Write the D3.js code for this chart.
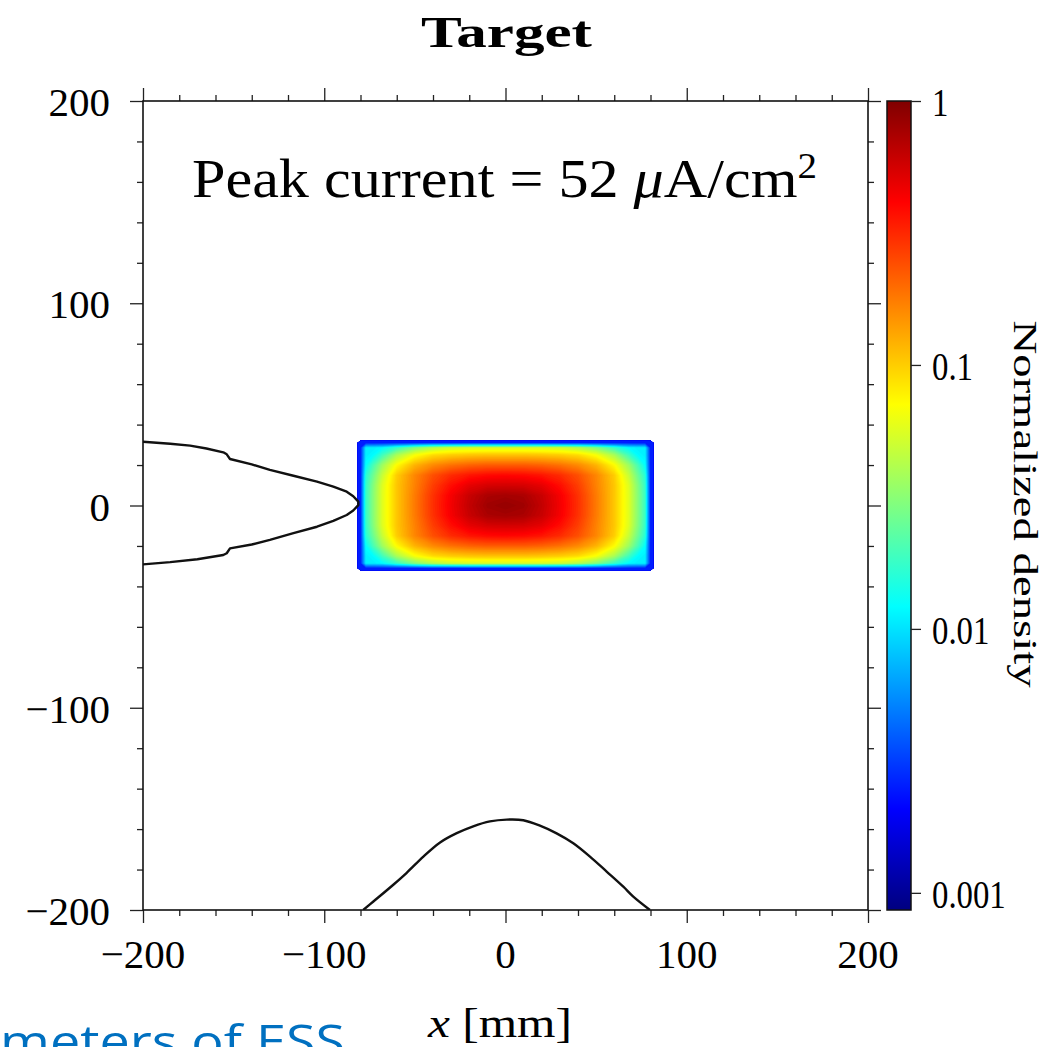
<!DOCTYPE html>
<html>
<head>
<meta charset="utf-8">
<script src="https://cdn.jsdelivr.net/npm/d3@7"></script>
<style>
  html, body { margin: 0; padding: 0; background: #fff; }
  svg { display: block; }
</style>
</head>
<body>
<div id="chart"></div>
<script>
// sample positions of the beam density (mm)
const gridX = [-80, -77, -73, -68, -60, -50, -40, -30, -20, -10, 0, 10, 20, 30, 40, 50, 60, 68, 73, 77, 80]
const gridY = [31, 28.5, 25, 20, 15, 10, 5, 0, -5, -10, -15, -20, -25, -28.5, -31]
// half size of the beam footprint (mm)
const beamEdgeX = 81.5
const beamEdgeY = 32

// normalized density, one row per gridY value (top to bottom)
const density = [
  [0.0025, 0.0025, 0.0025, 0.0025, 0.0025, 0.0025, 0.0025, 0.0025, 0.0025, 0.0025, 0.0025, 0.0025, 0.0025, 0.0025, 0.0025, 0.0025, 0.0025, 0.0025, 0.0025, 0.0025, 0.0025],
  [0.0025, 0.011, 0.011, 0.012, 0.018, 0.03, 0.042, 0.05, 0.053, 0.054, 0.054, 0.054, 0.053, 0.05, 0.042, 0.03, 0.018, 0.012, 0.011, 0.011, 0.0025],
  [0.0025, 0.011, 0.012, 0.019, 0.039, 0.068, 0.09, 0.1, 0.105, 0.108, 0.108, 0.108, 0.105, 0.1, 0.09, 0.068, 0.039, 0.019, 0.012, 0.011, 0.0025],
  [0.0025, 0.0125, 0.02, 0.036, 0.072, 0.12, 0.16, 0.19, 0.21, 0.22, 0.22, 0.22, 0.21, 0.19, 0.16, 0.12, 0.072, 0.036, 0.02, 0.0125, 0.0025],
  [0.0025, 0.016, 0.026, 0.048, 0.1, 0.165, 0.24, 0.31, 0.36, 0.39, 0.4, 0.39, 0.36, 0.31, 0.24, 0.165, 0.1, 0.048, 0.026, 0.016, 0.0025],
  [0.0025, 0.0175, 0.03, 0.056, 0.105, 0.17, 0.27, 0.38, 0.49, 0.55, 0.56, 0.55, 0.49, 0.38, 0.27, 0.17, 0.105, 0.056, 0.03, 0.0175, 0.0025],
  [0.0025, 0.018, 0.031, 0.057, 0.105, 0.178, 0.295, 0.44, 0.605, 0.74, 0.77, 0.74, 0.605, 0.44, 0.295, 0.178, 0.105, 0.057, 0.031, 0.018, 0.0025],
  [0.0025, 0.018, 0.031, 0.057, 0.105, 0.18, 0.3, 0.45, 0.63, 0.8, 0.86, 0.8, 0.63, 0.45, 0.3, 0.18, 0.105, 0.057, 0.031, 0.018, 0.0025],
  [0.0025, 0.018, 0.031, 0.057, 0.105, 0.178, 0.295, 0.44, 0.605, 0.74, 0.77, 0.74, 0.605, 0.44, 0.295, 0.178, 0.105, 0.057, 0.031, 0.018, 0.0025],
  [0.0025, 0.0175, 0.03, 0.056, 0.105, 0.17, 0.27, 0.38, 0.49, 0.55, 0.56, 0.55, 0.49, 0.38, 0.27, 0.17, 0.105, 0.056, 0.03, 0.0175, 0.0025],
  [0.0025, 0.016, 0.026, 0.048, 0.1, 0.165, 0.24, 0.31, 0.36, 0.39, 0.4, 0.39, 0.36, 0.31, 0.24, 0.165, 0.1, 0.048, 0.026, 0.016, 0.0025],
  [0.0025, 0.0125, 0.02, 0.036, 0.072, 0.12, 0.16, 0.19, 0.21, 0.22, 0.22, 0.22, 0.21, 0.19, 0.16, 0.12, 0.072, 0.036, 0.02, 0.0125, 0.0025],
  [0.0025, 0.011, 0.012, 0.019, 0.039, 0.068, 0.09, 0.1, 0.105, 0.108, 0.108, 0.108, 0.105, 0.1, 0.09, 0.068, 0.039, 0.019, 0.012, 0.011, 0.0025],
  [0.0025, 0.011, 0.011, 0.012, 0.018, 0.03, 0.042, 0.05, 0.053, 0.054, 0.054, 0.054, 0.053, 0.05, 0.042, 0.03, 0.018, 0.012, 0.011, 0.011, 0.0025],
  [0.0025, 0.0025, 0.0025, 0.0025, 0.0025, 0.0025, 0.0025, 0.0025, 0.0025, 0.0025, 0.0025, 0.0025, 0.0025, 0.0025, 0.0025, 0.0025, 0.0025, 0.0025, 0.0025, 0.0025, 0.0025]
]

// aperture outline on the left (mm)
const apertureX = [-200, -185, -174, -165, -155.7, -153.8, -152, -140, -130, -117, -104, -95, -87.6, -84, -81.2, -81.2, -84, -87.6, -95, -104, -117, -130, -140, -152, -153.8, -155.7, -170, -185, -200]
const apertureY = [31.5, 30.5, 29.6, 28.2, 26.3, 25.3, 23, 20.3, 17.6, 14.7, 11.8, 9.3, 6.8, 4.6, 1.9, 0.2, -2.5, -4.7, -7.6, -10.5, -13.7, -17, -19.3, -21.2, -23.6, -24.5, -26.6, -28, -29.1]
// outline at the bottom (mm)
const lowerX = [-78.5, -72.9, -61.9, -54.5, -45.3, -36.1, -26.9, -17.8, -8.6, 0.7, 9.8, 19, 28.2, 37.4, 46.6, 55.8, 65, 70.5, 79.7]
const lowerY = [-200, -195.8, -187.5, -181.6, -173.6, -166.6, -162, -158.6, -156.2, -155.3, -155.6, -158.3, -162.1, -167, -173.6, -181, -188.5, -193.4, -200]

const majorTicks = [-200, -100, 0, 100, 200]
const minorTicks = [-180, -160, -140, -120, -80, -60, -40, -20, 20, 40, 60, 80, 120, 140, 160, 180]
const colorTicks = [1, 0.1, 0.01, 0.001]
const colorTickLabels = ['1', '0.1', '0.01', '0.001']
const jetColors = ['#000080', '#0000ff', '#0080ff', '#00ffff', '#80ff80', '#ffff00', '#ff8000', '#ff0000', '#800000']

const W = 1059, H = 1047
const M = { left: 143, right: 868, top: 101, bottom: 910 }
const SERIF = "'Liberation Serif', 'DejaVu Serif', serif"
const LOG_MIN = -3.065

const svg = d3.select('#chart').append('svg')
  .attr('width', W)
  .attr('height', H)
  .style('font-family', SERIF)

const x = d3.scaleLinear().domain([-200, 200]).range([M.left, M.right])
const y = d3.scaleLinear().domain([-200, 200]).range([M.bottom, M.top])
const color = d3.scaleSequentialLog(d3.piecewise(d3.interpolateRgb, jetColors))
  .domain([10 ** LOG_MIN, 1])
  .clamp(true)

// contour grid index -> mm (samples sit at cell centres)
const gx = d3.scaleLinear()
  .domain([0, ...gridX.map((d, i) => i + 0.5), gridX.length])
  .range([-beamEdgeX, ...gridX, beamEdgeX])
const gy = d3.scaleLinear()
  .domain([0, ...gridY.map((d, i) => i + 0.5), gridY.length])
  .range([beamEdgeY, ...gridY, -beamEdgeY])

const STEP = 0.02
const levels = d3.range(LOG_MIN, 0, STEP)
const bands = d3.contours()
  .size([gridX.length, gridY.length])
  .thresholds(levels)(density.flat().map(Math.log10))

const toPixels = d3.geoTransform({
  point(u, v) { this.stream.point(x(gx(u)), y(gy(v))) }
})
const path = d3.geoPath(toPixels)

svg.append('g')
  .selectAll('path')
  .data(bands)
  .join('path')
    .attr('d', path)
    .attr('fill', d => color(10 ** (d.value + STEP / 2)))

// outlines
svg.append('clipPath').attr('id', 'plot-clip')
  .append('rect')
    .attr('x', M.left).attr('y', M.top)
    .attr('width', M.right - M.left).attr('height', M.bottom - M.top)

const line = d3.line().x(d => x(d[0])).y(d => y(d[1]))
const outlines = svg.append('g').attr('clip-path', 'url(#plot-clip)')
outlines.append('path')
  .attr('d', line(d3.zip(apertureX, apertureY)))
  .attr('fill', 'none').attr('stroke', '#111').attr('stroke-width', 2.4)
  .attr('stroke-linejoin', 'round')
outlines.append('path')
  .attr('d', line.curve(d3.curveCatmullRom)(d3.zip(lowerX, lowerY)))
  .attr('fill', 'none').attr('stroke', '#111').attr('stroke-width', 2.4)

// ticks on all four sides, pointing outwards
const sides = [
  [d3.axisBottom(x), `translate(0,${M.bottom})`],
  [d3.axisTop(x), `translate(0,${M.top})`],
  [d3.axisLeft(y), `translate(${M.left},0)`],
  [d3.axisRight(y), `translate(${M.right},0)`]
]
sides.forEach(([axis, t]) => {
  [[minorTicks, 6], [majorTicks, 13]].forEach(([vals, size]) => {
    const g = svg.append('g').attr('transform', t)
      .call(axis.tickValues(vals).tickSize(size).tickSizeOuter(0).tickFormat(''))
    g.select('.domain').remove()
    g.selectAll('line').attr('stroke', '#222').attr('stroke-width', 1.3)
  })
})

svg.append('rect')
  .attr('x', M.left).attr('y', M.top)
  .attr('width', M.right - M.left).attr('height', M.bottom - M.top)
  .attr('fill', 'none').attr('stroke', '#111').attr('stroke-width', 1.6)

const fmt = v => (v < 0 ? '\u2212' : '') + Math.abs(v)

svg.append('g').selectAll('text')
  .data(majorTicks)
  .join('text')
    .attr('x', 110)
    .attr('y', d => y(d) + 15)
    .attr('text-anchor', 'end')
    .attr('font-size', 41)
    .text(fmt)

svg.append('g').selectAll('text')
  .data(majorTicks)
  .join('text')
    .attr('x', d => x(d))
    .attr('y', 968)
    .attr('text-anchor', 'middle')
    .attr('font-size', 41)
    .text(fmt)

// colour bar
const cbX = 887, cbW = 24
const cbScale = d3.scaleLog().domain([10 ** LOG_MIN, 1]).range([M.bottom, M.top])
const grad = svg.append('defs').append('linearGradient')
  .attr('id', 'jet')
  .attr('x1', 0).attr('y1', 1).attr('x2', 0).attr('y2', 0)
grad.selectAll('stop')
  .data(jetColors)
  .join('stop')
    .attr('offset', (d, i) => i / (jetColors.length - 1))
    .attr('stop-color', d => d)

svg.append('rect')
  .attr('x', cbX).attr('y', M.top)
  .attr('width', cbW).attr('height', M.bottom - M.top)
  .attr('fill', 'url(#jet)')
  .attr('stroke', '#111').attr('stroke-width', 1.5)

const cbAxis = svg.append('g')
  .attr('transform', `translate(${cbX + cbW},0)`)
  .call(d3.axisRight(cbScale).tickValues(colorTicks).tickSize(10).tickFormat(''))
cbAxis.select('.domain').remove()
cbAxis.selectAll('line').attr('stroke', '#222').attr('stroke-width', 1.3)

svg.append('g').selectAll('text')
  .data(colorTicks)
  .join('text')
    .attr('transform', d => `translate(932,${cbScale(d) + 15}) scale(0.8,1)`)
    .attr('font-size', 41)
    .text((d, i) => colorTickLabels[i])

svg.append('text')
  .attr('transform', 'translate(1014,504) rotate(90)')
  .attr('text-anchor', 'middle')
  .attr('font-size', 33)
  .attr('textLength', 367)
  .attr('lengthAdjust', 'spacingAndGlyphs')
  .text('Normalized density')

// titles and labels
svg.append('text')
  .attr('x', 421).attr('y', 47)
  .attr('font-size', 44)
  .attr('font-weight', 'bold')
  .attr('textLength', 171)
  .attr('lengthAdjust', 'spacingAndGlyphs')
  .text('Target')

const peak = svg.append('text')
  .attr('x', 192).attr('y', 197)
  .attr('font-size', 54)
  .attr('textLength', 625)
  .attr('lengthAdjust', 'spacingAndGlyphs')
peak.append('tspan').text('Peak current = 52 ')
peak.append('tspan').attr('font-style', 'italic').text('\u03bc')
peak.append('tspan').text('A/cm')
peak.append('tspan').attr('font-size', 35).attr('dy', -19).text('2')

const xLabel = svg.append('text')
  .attr('x', 428).attr('y', 1037)
  .attr('font-size', 42)
  .attr('textLength', 144)
  .attr('lengthAdjust', 'spacingAndGlyphs')
xLabel.append('tspan').attr('font-style', 'italic').text('x')
xLabel.append('tspan').text(' [mm]')

// slide caption running off the bottom edge, as in the source
svg.append('text')
  .attr('x', 0).attr('y', 1058)
  .attr('font-family', "'Open Sans', 'Noto Sans', sans-serif")
  .attr('font-size', 46)
  .attr('fill', '#0070c0')
  .attr('textLength', 345)
  .attr('lengthAdjust', 'spacingAndGlyphs')
  .text('meters of ESS')
</script>
</body>
</html>
